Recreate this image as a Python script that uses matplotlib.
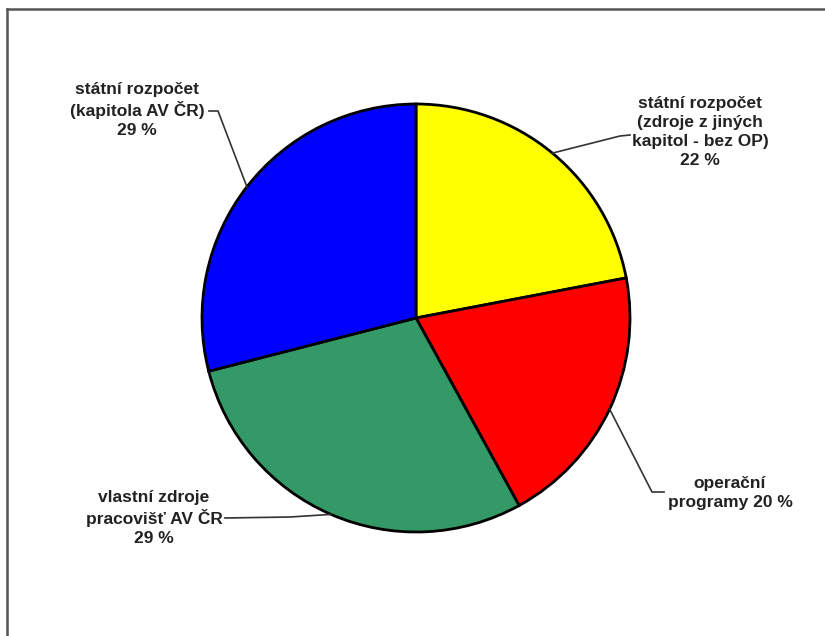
import matplotlib
matplotlib.use("Agg")
import matplotlib.pyplot as plt
from matplotlib.lines import Line2D
import numpy as np

# Data
categories = [
    "státní rozpočet\n(zdroje z jiných\nkapitol - bez OP)\n22 %",
    "operační\nprogramy 20 %",
    "vlastní zdroje\npracovišť AV ČR\n29 %",
    "státní rozpočet\n(kapitola AV ČR)\n29 %",
]
values = [22, 20, 29, 29]
colors = ["#FFFF00", "#FF0000", "#339966", "#0000FF"]

W, H = 825, 636
fig = plt.figure(figsize=(W / 100, H / 100), dpi=100)
fig.patch.set_facecolor("white")

# frame (cut at right/bottom)
def fx(px): return px / W
def fy(py): return 1 - py / H
fig.add_artist(Line2D([fx(7), fx(825)], [fy(9), fy(9)], color="#555555", lw=1.8))
fig.add_artist(Line2D([fx(7), fx(7)], [fy(9), fy(636)], color="#555555", lw=1.8))

cx, cy, R = 416, 318, 214
ax = fig.add_axes([(cx - R) / W, (H - cy - R) / H, 2 * R / W, 2 * R / H])
wedges, _ = ax.pie(values, colors=colors, startangle=90, counterclock=False,
                   radius=1.0, wedgeprops=dict(edgecolor="black", linewidth=2))
ax.set_xlim(-1, 1)
ax.set_ylim(-1, 1)
ax.set_aspect("equal")
ax.axis("off")

def d(px, py):
    return ((px - cx) / R, (cy - py) / R)

# label layout: (text center px, knee px, text-side end px)
layout = [
    ((700, 132), (620, 136), (630, 135)),
    ((730, 493), (652, 492), (664, 492)),
    ((154, 518), (290, 517), (225, 518)),
    ((137, 110), (218, 111), (209, 111)),
]

for w, lab, (tc, knee, tend) in zip(wedges, categories, layout):
    ang = np.deg2rad((w.theta1 + w.theta2) / 2)
    edge = (np.cos(ang), np.sin(ang))
    k = d(*knee)
    e = d(*tend)
    ax.plot([edge[0], k[0], e[0]], [edge[1], k[1], e[1]], color="#333333",
            lw=1.2, clip_on=False, solid_joinstyle="miter")
    tx, ty = d(*tc)
    ax.text(tx, ty, lab, ha="center", va="center", multialignment="center",
            fontsize=12.5, fontweight="bold", family="Liberation Sans",
            color="#222222", linespacing=1.32, clip_on=False)

fig.savefig("out.png", dpi=100)
